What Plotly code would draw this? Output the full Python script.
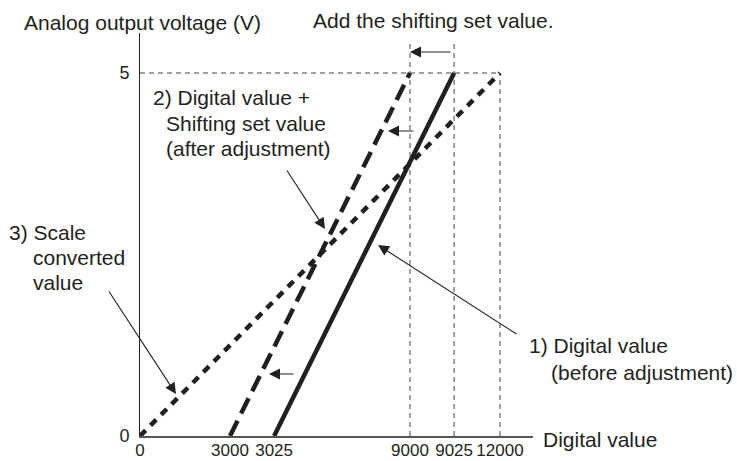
import numpy as np
import plotly.graph_objects as go

# ---- data -------------------------------------------------------------
# Digital values on the horizontal axis and analog output voltage (V)
tick_values = [0, 3000, 3025, 9000, 9025, 12000]
tick_labels = ["0", "3000", "3025", "9000", "9025", "12000"]
voltage_ticks = [0, 5]

# 1) Digital value (before adjustment)
before_x = [3025, 9025]
before_v = [0, 5]
# 2) Digital value + shifting set value (after adjustment)
after_x = [3000, 9000]
after_v = [0, 5]
# 3) Scale converted value
scaled_x = [0, 12000]
scaled_v = [0, 5]

# ---- schematic horizontal scale ---------------------------------------
# The 25-digit shift is too small to see at true scale, so the axis is
# drawn as a broken (piecewise linear) scale that widens the shift.
SCALE_IN = [0, 3000, 3025, 9000, 9025, 12000]
SCALE_OUT = [0, 3000, 4470, 9000, 10470, 12000]


def xs(v):
    return [float(p) for p in np.interp(v, SCALE_IN, SCALE_OUT)]


# ---- layout geometry --------------------------------------------------
W, H = 737, 461
ML, MR, MT, MB = 140, 204, 33, 25
PW, PH = W - ML - MR, H - MT - MB
X_RANGE = [0, 13100]
Y_RANGE = [0, 5.551]

INK = "#231f20"
FONT = "Liberation Sans, Arial, sans-serif"


def paper(px, py):
    """pixel position in the page -> paper coordinates"""
    return (px - ML) / PW, (H - MB - py) / PH


fig = go.Figure()

line_w = 4.5
fig.add_trace(go.Scatter(x=xs(scaled_x), y=scaled_v, mode="lines",
                         line=dict(color=INK, width=line_w, dash="8px,7px"),
                         hoverinfo="skip"))
fig.add_trace(go.Scatter(x=xs(after_x), y=after_v, mode="lines",
                         line=dict(color=INK, width=line_w, dash="17px,8px"),
                         hoverinfo="skip"))
fig.add_trace(go.Scatter(x=xs(before_x), y=before_v, mode="lines",
                         line=dict(color=INK, width=line_w),
                         hoverinfo="skip"))

# thin dashed guide lines
guide = dict(color="#444444", width=1, dash="5px,4px")
top_v = 5.45
full_scale = max(scaled_v)
x_full = xs([scaled_x[1]])[0]
fig.add_shape(type="line", x0=0, x1=x_full, y0=full_scale, y1=full_scale,
              line=guide, layer="below")
fig.add_shape(type="line", x0=x_full, x1=x_full, y0=0, y1=full_scale,
              line=guide, layer="below")
for xv in (after_x[1], before_x[1]):
    xp = xs([xv])[0]
    fig.add_shape(type="line", x0=xp, x1=xp, y0=0, y1=top_v,
                  line=guide, layer="below")

txt = dict(family=FONT, size=21, color=INK)


def label(text, px, py):
    x, y = paper(px, py)
    fig.add_annotation(text=text, x=x, y=y, xref="paper", yref="paper",
                       xanchor="left", yanchor="middle", showarrow=False,
                       font=txt)


def arrow(tail, tip):
    x, y = paper(*tip)
    fig.add_annotation(text="", x=x, y=y, xref="paper", yref="paper",
                       ax=tail[0] - tip[0], ay=tail[1] - tip[1],
                       axref="pixel", ayref="pixel", showarrow=True,
                       arrowhead=2, arrowsize=2.0, arrowwidth=1.1,
                       arrowcolor=INK, standoff=0)


label("Analog output voltage (V)", 22, 22)
label("Add the shifting set value.", 311, 21)
label("2) Digital value +", 151, 98)
label("Shifting set value", 164, 123)
label("(after adjustment)", 164, 148)
label("3) Scale", 7, 232)
label("converted", 31, 257)
label("value", 31, 282)
label("1) Digital value", 527, 345)
label("(before adjustment)", 549, 372)
label("Digital value", 541, 439)

# pointer arrows from the labels to the lines
arrow((286, 169), (325, 229))
arrow((518, 335), (378, 245))
arrow((108, 290), (176, 394))
# shift arrows
arrow((452, 52), (410, 52))
arrow((415, 131), (388, 131))
arrow((295, 374), (269, 374))

fig.update_layout(
    width=W, height=H,
    margin=dict(l=ML, r=MR, t=MT, b=MB, pad=0, autoexpand=False),
    paper_bgcolor="white", plot_bgcolor="white",
    showlegend=False,
    font=dict(family=FONT, color=INK),
    xaxis=dict(range=X_RANGE, showgrid=False, zeroline=False,
               showline=True, linecolor="#555555", linewidth=2,
               tickmode="array", tickvals=xs(tick_values), ticktext=tick_labels,
               ticks="", tickangle=0, automargin=False,
               ticklabelstandoff=-2,
               tickfont=dict(family=FONT, size=17, color=INK),
               fixedrange=True),
    yaxis=dict(range=Y_RANGE, showgrid=False, zeroline=False,
               showline=True, linecolor=INK, linewidth=1,
               tickmode="array", tickvals=voltage_ticks,
               ticktext=[str(v) for v in voltage_ticks],
               ticks="", tickangle=0, automargin=False,
               tickfont=dict(family=FONT, size=18, color=INK),
               ticklabelstandoff=6, fixedrange=True),
)

fig.write_html("out.html", config={"displayModeBar": False})
